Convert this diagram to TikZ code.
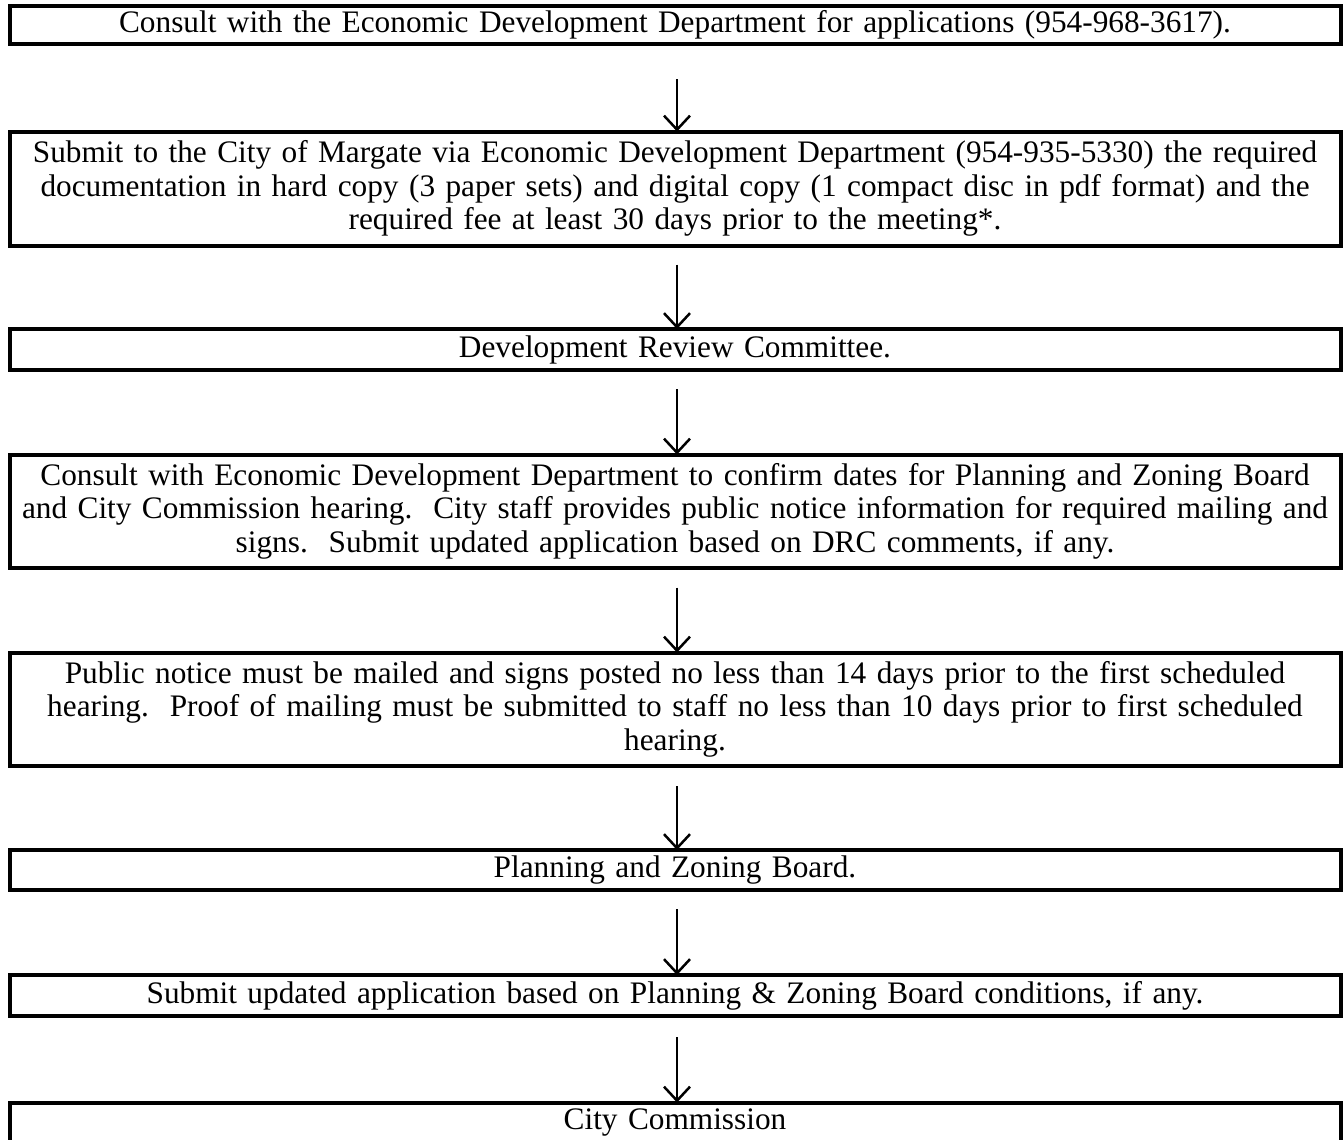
\documentclass[tikz,border=0pt]{standalone}
\usepackage{fontspec}
\setmainfont{Liberation Serif}
\usetikzlibrary{arrows.meta}
\begin{document}
\begin{tikzpicture}[x=1pt,y=1pt,
  stepbox/.style={draw=black, line width=4pt, outer sep=0pt, inner sep=0pt,
    minimum width=1331pt, text width=1328pt, align=center,
    font=\fontsize{31.3}{33.5}\selectfont},
  flow/.style={line width=2.5pt, -{Straight Barb[length=14pt,width=26pt,line width=2.5pt]}}]
\useasboundingbox (0,0) rectangle (1344,-1140);
\node[stepbox, minimum height=38.5pt] (b1) at (675,-25.25)
  {Consult with the Economic Development Department for applications (954-968-3617).};
\node[stepbox, minimum height=114pt] (b2) at (675,-188.5)
  {Submit to the City of Margate via Economic Development Department (954-935-5330) the required\\
   documentation in hard copy (3 paper sets) and digital copy (1 compact disc in pdf format) and the\\
   required fee at least 30 days prior to the meeting*.};
\node[stepbox, minimum height=41pt] (b3) at (675,-349.5)
  {Development Review Committee.};
\node[stepbox, minimum height=113pt] (b4) at (675,-511)
  {Consult with Economic Development Department to confirm dates for Planning and Zoning Board\\
   and City Commission hearing.\ \ City staff provides public notice information for required mailing and\\
   signs.\ \ Submit updated application based on DRC comments, if any.};
\node[stepbox, minimum height=113.5pt] (b5) at (675,-709.25)
  {Public notice must be mailed and signs posted no less than 14 days prior to the first scheduled\\
   hearing.\ \ Proof of mailing must be submitted to staff no less than 10 days prior to first scheduled\\
   hearing.};
\node[stepbox, minimum height=40pt] (b6) at (675,-870)
  {Planning and Zoning Board.};
\node[stepbox, minimum height=41pt] (b7) at (675,-995.5)
  {Submit updated application based on Planning \& Zoning Board conditions, if any.};
\node[stepbox, draw=none, minimum height=40pt] (b8) at (675,-1122.5)
  {City Commission};
\draw[line width=4pt] (b8.south west) -- (b8.north west) -- (b8.north east) -- (b8.south east);
\draw[flow] ([xshift=2pt,yshift=-35pt]b1.south) -- ([xshift=2pt]b2.north);
\draw[flow] ([xshift=2pt,yshift=-19pt]b2.south) -- ([xshift=2pt]b3.north);
\draw[flow] ([xshift=2pt,yshift=-19pt]b3.south) -- ([xshift=2pt]b4.north);
\draw[flow] ([xshift=2pt,yshift=-20pt]b4.south) -- ([xshift=2pt]b5.north);
\draw[flow] ([xshift=2pt,yshift=-20pt]b5.south) -- ([xshift=2pt]b6.north);
\draw[flow] ([xshift=2pt,yshift=-19pt]b6.south) -- ([xshift=2pt]b7.north);
\draw[flow] ([xshift=2pt,yshift=-21pt]b7.south) -- ([xshift=2pt]b8.north);
\end{tikzpicture}
\end{document}
